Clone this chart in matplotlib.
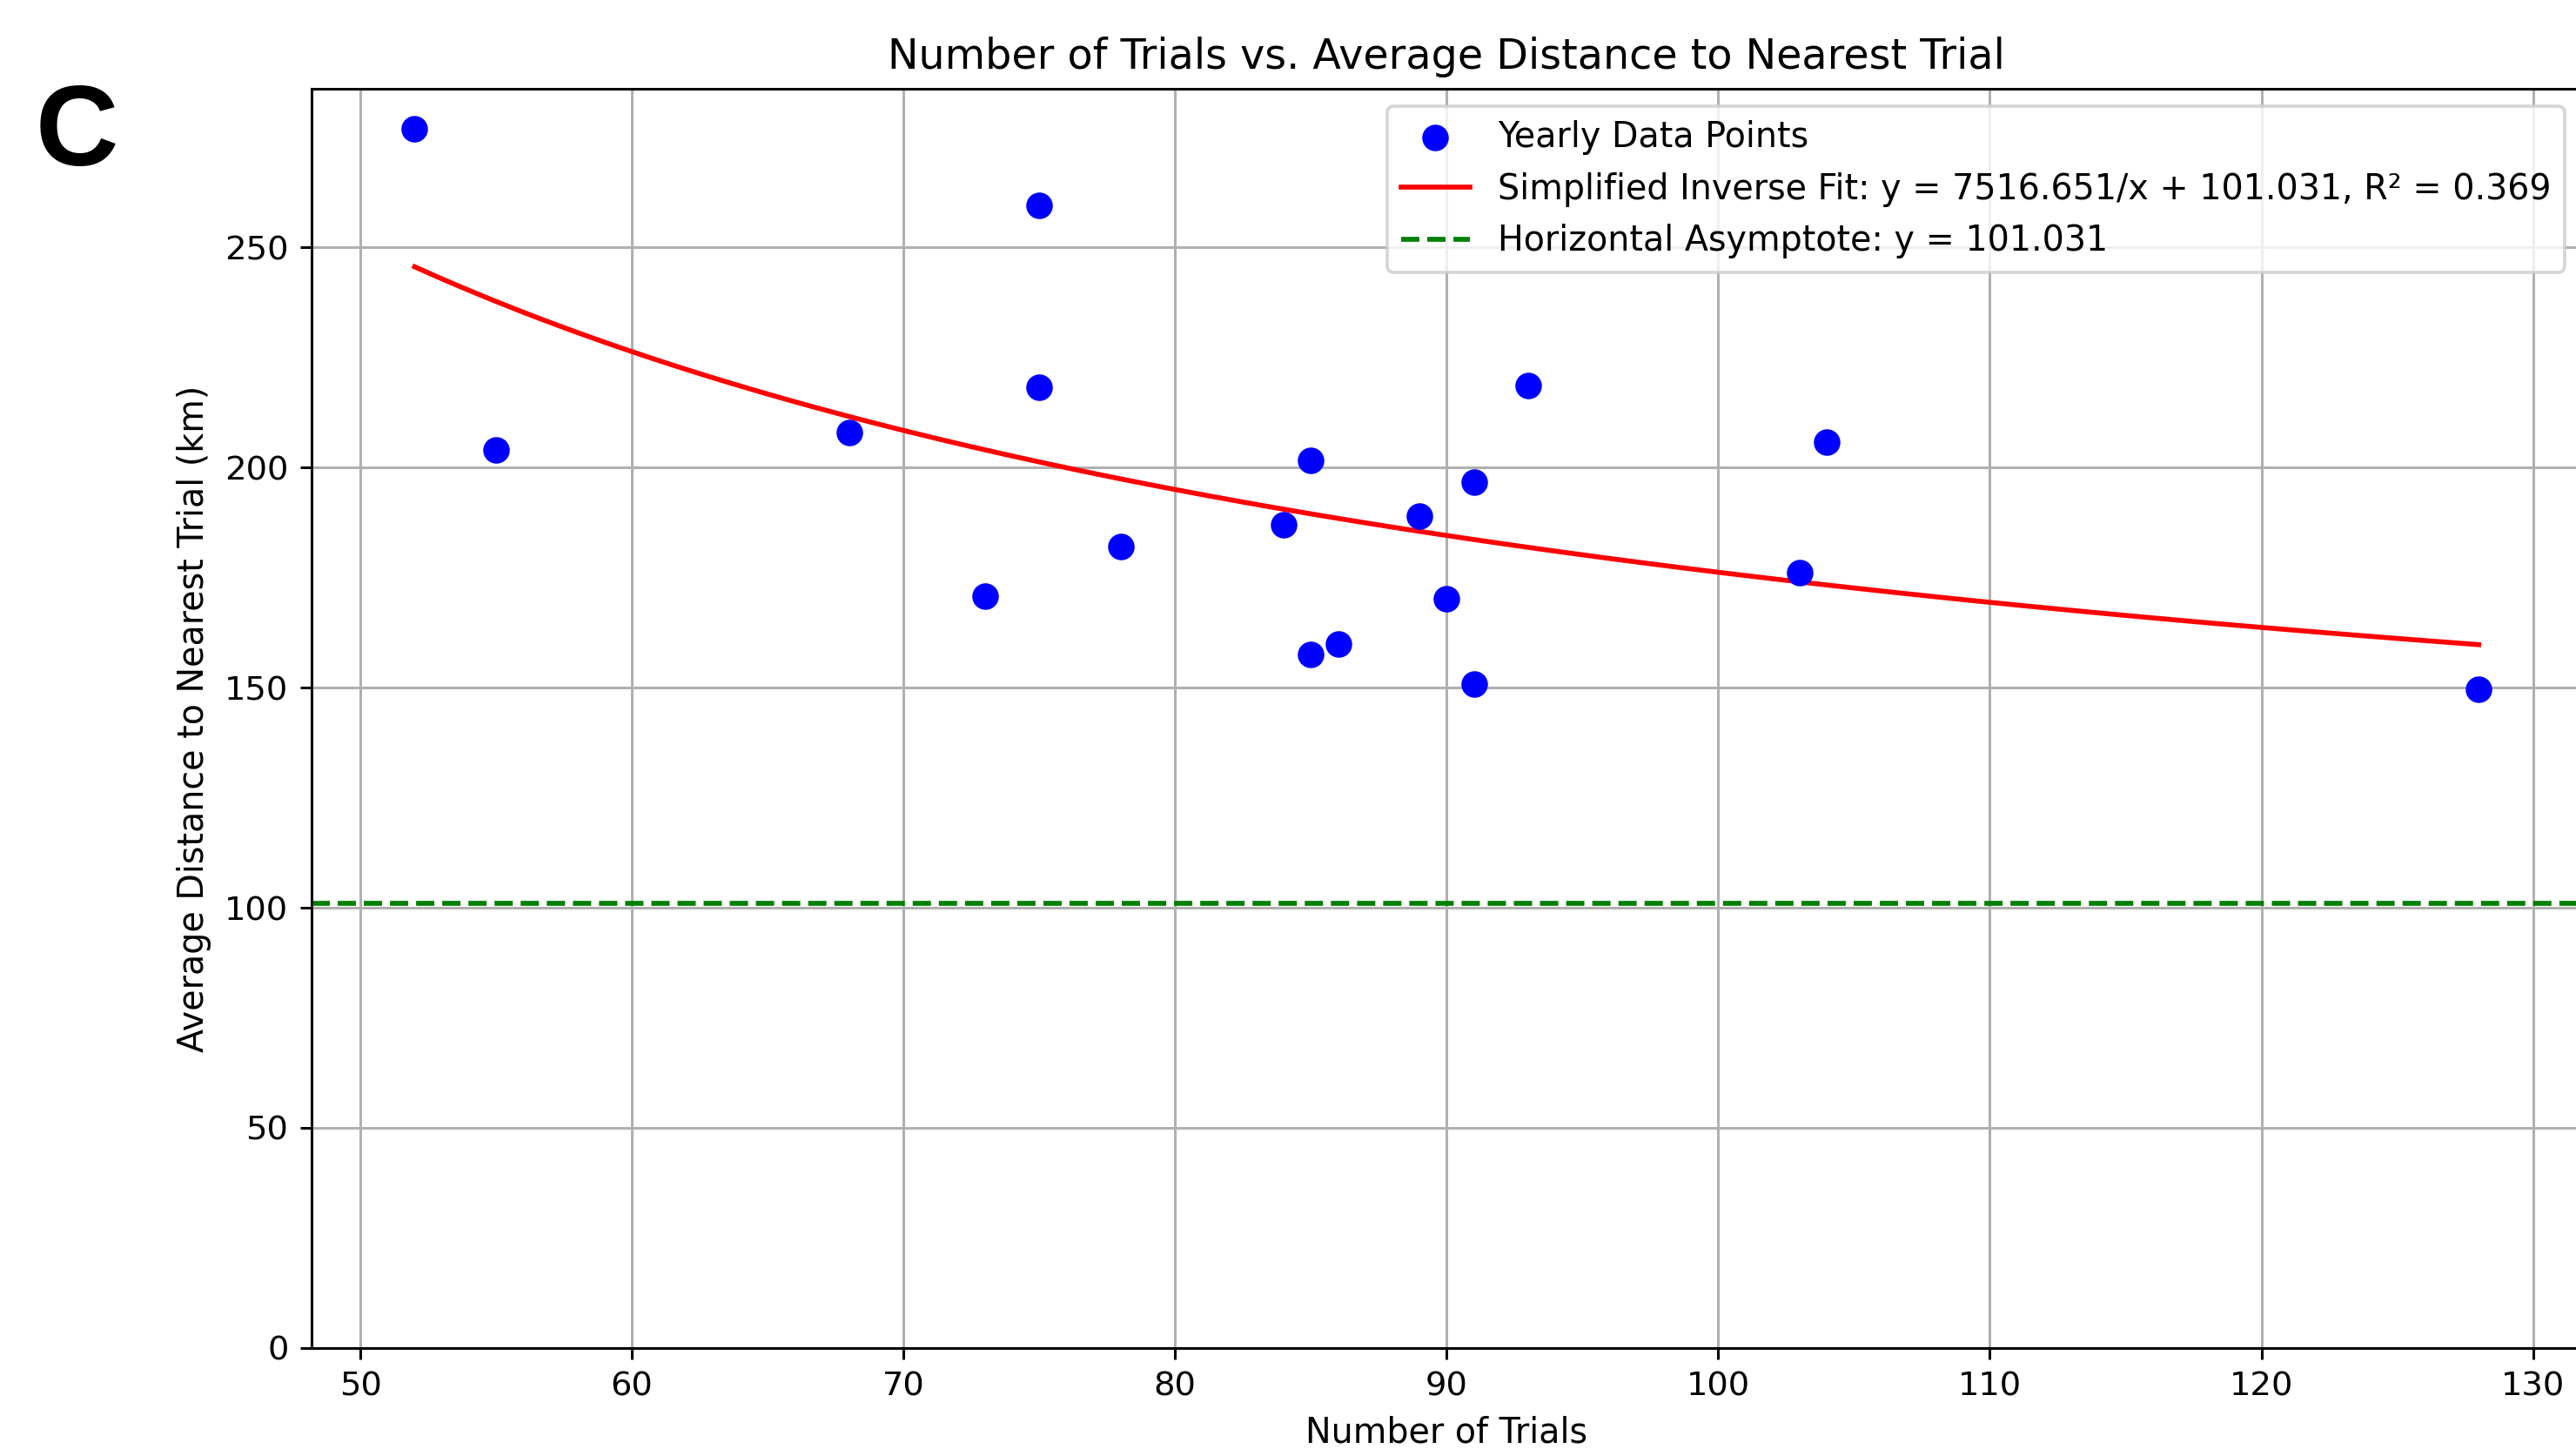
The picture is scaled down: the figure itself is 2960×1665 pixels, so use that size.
#!/usr/bin/env python3
# -*- coding: utf-8 -*-

import numpy as np
import matplotlib
matplotlib.use('Agg')
import matplotlib.pyplot as plt


# yearly data: number of trials and average distance to nearest trial (km)
trials = [52, 55, 68, 73, 75, 75, 78, 84, 85, 85, 86, 89, 90, 91, 91, 93, 103, 104, 128]
avg_dist = [277.0, 204.0, 208.0, 170.8, 259.5, 218.2, 182.0, 187.0, 201.7, 157.6,
            159.9, 188.9, 170.1, 196.6, 150.8, 218.7, 176.2, 205.7, 149.6]

# fitted parameters, as given in the legend
fit_a = 7516.651
fit_b = 101.031
fit_r2 = 0.369

plt.rcParams['font.size'] = 10.5
plt.rcParams['xtick.labelsize'] = 10.2
plt.rcParams['ytick.labelsize'] = 10.2

DPI = 272
fig = plt.figure(figsize=(2960 / DPI, 1665 / DPI), dpi=DPI)
# the right edge of the axes runs slightly past the picture, as in the original crop
ax = fig.add_axes([0.1209, 0.0697, 0.8814, 0.869])

x_fit = np.linspace(min(trials), max(trials), 100)
y_fit = fit_a / x_fit + fit_b

ax.scatter(trials, avg_dist, color='blue', s=50, label='Yearly Data Points', zorder=3)
ax.plot(x_fit, y_fit, color='red',
        label='Simplified Inverse Fit: y = %.3f/x + %.3f, R² = %.3f' % (fit_a, fit_b, fit_r2))
ax.axhline(fit_b, color='green', linestyle='--',
           label='Horizontal Asymptote: y = %.3f' % fit_b)

ax.set_xlim(48.2, 131.8)
ax.set_ylim(0, 286)
ax.set_title('Number of Trials vs. Average Distance to Nearest Trial')
ax.set_xlabel('Number of Trials')
ax.set_ylabel('Average Distance to Nearest Trial (km)')
ax.grid(True)
ax.legend(loc='upper right', labelspacing=0.5)

# panel letter
fig.text(0.0138, 0.8856, 'C', fontsize=35, fontweight='bold',
         family='Liberation Sans', va='baseline', ha='left')

fig.savefig('out.png', dpi=DPI)
